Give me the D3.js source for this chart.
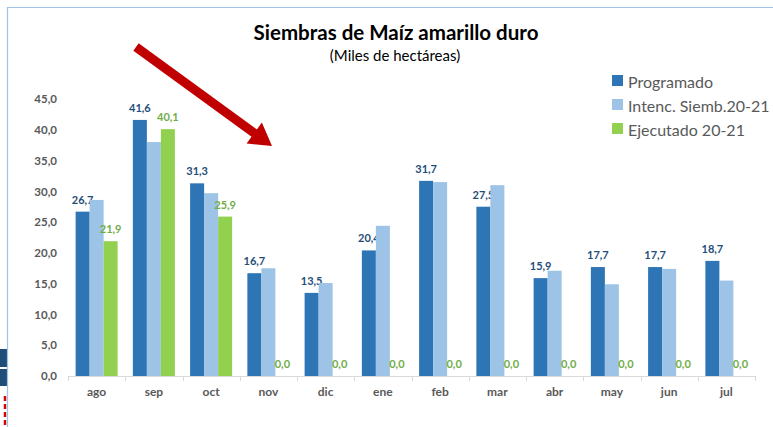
<!DOCTYPE html>
<html>
<head>
<meta charset="utf-8">
<script src="https://cdn.jsdelivr.net/npm/d3@7"></script>
<style>
  body { margin: 0; background: #ffffff; }
  svg { display: block; }
</style>
</head>
<body>
<svg id="chart" width="773" height="427"></svg>
<script>
// chart data
const months = ['ago', 'sep', 'oct', 'nov', 'dic', 'ene', 'feb', 'mar', 'abr', 'may', 'jun', 'jul'];
const programado = [26.7, 41.6, 31.3, 16.7, 13.5, 20.4, 31.7, 27.5, 15.9, 17.7, 17.7, 18.7];
const intencion = [28.6, 38.0, 29.7, 17.5, 15.1, 24.4, 31.5, 31.0, 17.1, 14.9, 17.4, 15.5];
const ejecutado = [21.9, 40.1, 25.9, 0, 0, 0, 0, 0, 0, 0, 0, 0];
const seriesNames = ['Programado', 'Intenc. Siemb.20-21', 'Ejecutado 20-21'];
const yTicks = [0, 5, 10, 15, 20, 25, 30, 35, 40, 45];

const colors = ['#2E75B6', '#9DC3E6', '#92D050'];
const labelColors = { 0: '#1F4E79', 2: '#70AD47' };
const font = 'Lato, "Open Sans", sans-serif';

const svg = d3.select('#chart');
const width = 773, height = 427;

function setBackground(svg, width, height, color) {
    svg.append('rect')
        .attr('x', 0)
        .attr('y', 0)
        .attr('width', width)
        .attr('height', height)
        .attr('fill', color);
}

setBackground(svg, width, height, '#ffffff');

// bits of the spreadsheet showing at the left edge
svg.append('rect').attr('x', 0).attr('y', 349).attr('width', 7).attr('height', 18).attr('fill', '#1F4E79');
svg.append('rect').attr('x', 0).attr('y', 369).attr('width', 7).attr('height', 17).attr('fill', '#1F4E79');
svg.append('line')
    .attr('x1', 5).attr('y1', 396).attr('x2', 5).attr('y2', 427)
    .attr('stroke', '#E00000').attr('stroke-width', 2.5)
    .attr('stroke-dasharray', '5,3');

// chart frame
svg.append('path')
    .attr('d', `M7.5,427 V7.5 H773`)
    .attr('fill', 'none')
    .attr('stroke', '#9DC3E6')
    .attr('stroke-width', 1.2);

const x = d3.scaleBand()
    .domain(months)
    .range([68, 755])
    .paddingInner(0.266)
    .paddingOuter(0.133);

const xSub = d3.scaleBand()
    .domain([0, 1, 2])
    .range([0, x.bandwidth()]);

const y = d3.scaleLinear()
    .domain([0, 45])
    .range([376, 99]);

const fmt = v => d3.format('.1f')(v).replace('.', ',');

// y axis labels
const yAxis = svg.append('g')
    .attr('id', 'y-axis')
    .attr('transform', 'translate(57,0)')
    .call(d3.axisLeft(y).tickValues(yTicks).tickSize(0).tickPadding(0).tickFormat(fmt));
yAxis.select('.domain').remove();
yAxis.selectAll('text')
    .style('font-family', font)
    .style('font-size', '11.5px')
    .style('font-weight', 'bold')
    .attr('fill', '#595959');

// x axis
const xAxis = svg.append('g')
    .attr('id', 'x-axis')
    .attr('transform', `translate(0,${y(0)})`)
    .call(d3.axisBottom(x).tickSize(0).tickPadding(11));
xAxis.select('.domain')
    .attr('stroke', '#D9D9D9')
    .attr('d', `M68,0.5 H755`);
xAxis.selectAll('text')
    .style('font-family', font)
    .style('font-size', '12px')
    .style('font-weight', 'bold')
    .attr('fill', '#595959');

// tick marks between categories
const boundaries = months.map(m => x(m) - x.step() * x.paddingInner() / 2);
boundaries.push(755);
xAxis.selectAll('.bound')
    .data(boundaries)
    .join('line')
    .attr('class', 'bound')
    .attr('x1', d => Math.round(d) + 0.5)
    .attr('x2', d => Math.round(d) + 0.5)
    .attr('y1', 0)
    .attr('y2', 5)
    .attr('stroke', '#D9D9D9');

// bars
const allSeries = [programado, intencion, ejecutado];
allSeries.forEach((values, si) => {
    const g = svg.append('g').attr('class', 'series-' + si);
    g.selectAll('rect')
        .data(values)
        .join('rect')
        .attr('x', (d, i) => x(months[i]) + xSub(si))
        .attr('y', d => y(d))
        .attr('width', xSub.bandwidth())
        .attr('height', d => y(0) - y(d))
        .attr('fill', colors[si]);

    if (labelColors[si]) {
        g.selectAll('text')
            .data(values)
            .join('text')
            .attr('x', (d, i) => x(months[i]) + xSub(si) + xSub.bandwidth() / 2)
            .attr('y', d => y(d) - 8)
            .attr('text-anchor', 'middle')
            .style('font-family', font)
            .style('font-size', '11px')
            .style('font-weight', 'bold')
            .attr('fill', labelColors[si])
            .text(d => fmt(d));
    }
});

// title
svg.append('text')
    .attr('x', 396)
    .attr('y', 40)
    .attr('text-anchor', 'middle')
    .style('font-family', font)
    .style('font-size', '20.5px')
    .style('font-weight', 'bold')
    .attr('fill', '#000000')
    .text('Siembras de Maíz amarillo duro');

svg.append('text')
    .attr('x', 395)
    .attr('y', 61)
    .attr('text-anchor', 'middle')
    .style('font-family', font)
    .style('font-size', '15px')
    .attr('fill', '#000000')
    .text('(Miles de hectáreas)');

// legend
const legend = svg.append('g').attr('transform', 'translate(612,80)');
seriesNames.forEach((name, i) => {
    legend.append('rect')
        .attr('x', 0)
        .attr('y', i * 24 - 5)
        .attr('width', 11)
        .attr('height', 11)
        .attr('fill', colors[i]);
    legend.append('text')
        .attr('x', 16)
        .attr('y', i * 24 + 1)
        .attr('dominant-baseline', 'central')
        .style('font-family', font)
        .style('font-size', '16px')
        .attr('fill', '#595959')
        .text(name);
});

// red arrow annotation
function drawArrow(svg, x1, y1, x2, y2, shaft, headLen, headWidth, color) {
    const dx = x2 - x1, dy = y2 - y1;
    const len = Math.sqrt(dx * dx + dy * dy);
    const ux = dx / len, uy = dy / len;
    const px = -uy, py = ux;
    const bx = x2 - ux * headLen, by = y2 - uy * headLen;
    const pts = [
        [x1 + px * shaft / 2, y1 + py * shaft / 2],
        [bx + px * shaft / 2, by + py * shaft / 2],
        [bx + px * headWidth / 2, by + py * headWidth / 2],
        [x2, y2],
        [bx - px * headWidth / 2, by - py * headWidth / 2],
        [bx - px * shaft / 2, by - py * shaft / 2],
        [x1 - px * shaft / 2, y1 - py * shaft / 2]
    ];
    svg.append('path')
        .attr('d', d3.line()(pts) + 'Z')
        .attr('fill', color);
}

drawArrow(svg, 136, 47, 272, 146, 9, 22, 26, '#C00000');
</script>
</body>
</html>
